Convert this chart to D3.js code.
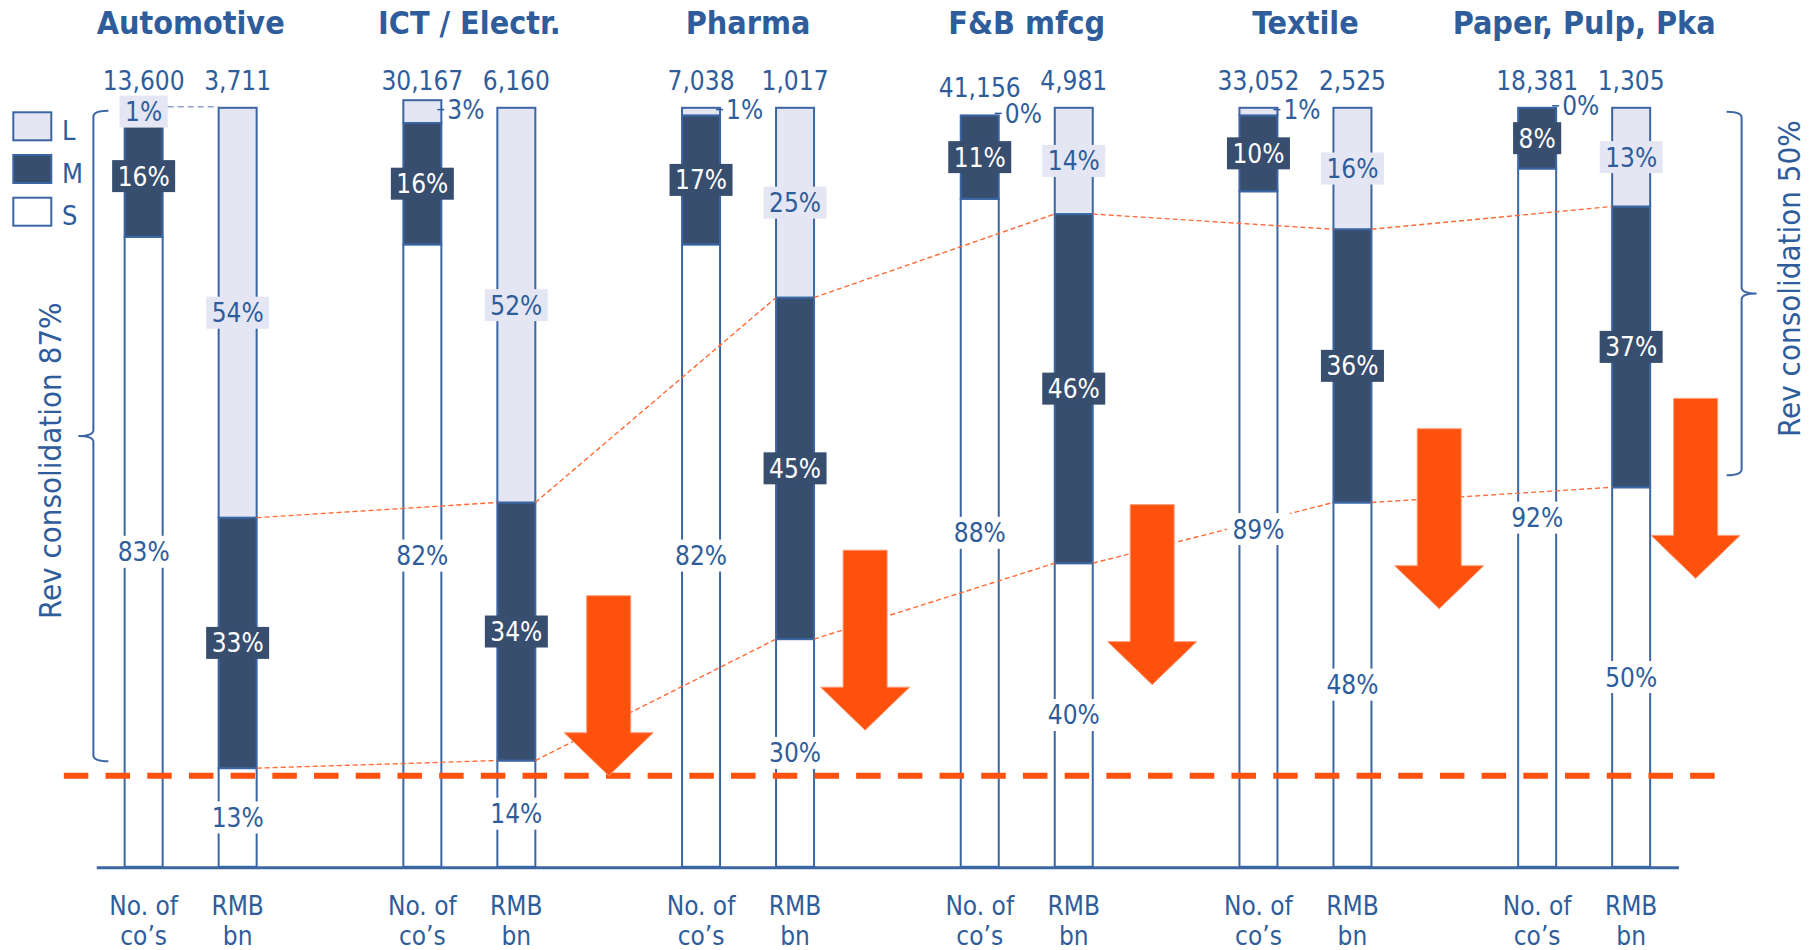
<!DOCTYPE html>
<html>
<head>
<meta charset="utf-8">
<script src="https://cdn.jsdelivr.net/npm/d3@7"></script>
<style>
  html, body { margin: 0; padding: 0; background: #ffffff; }
  svg { display: block; }
  text { font-family: "DejaVu Sans Condensed", "DejaVu Sans", sans-serif; font-stretch: condensed; }
</style>
</head>
<body>
<svg id="chart" width="1817" height="950"></svg>
<script>
// ---------------- data ----------------
const categories = ["Automotive", "ICT / Electr.", "Pharma", "F&B mfcg", "Textile", "Paper, Pulp, Pka"];
const companyTotals = [13600, 30167, 7038, 41156, 33052, 18381];
const revenueTotals = [3711, 6160, 1017, 4981, 2525, 1305];
// share of companies (%), by size class
const companyL = [1, 3, 1, 0, 1, 0];
const companyM = [16, 16, 17, 11, 10, 8];
const companyS = [83, 82, 82, 88, 89, 92];
// share of revenue (%), by size class
const revenueL = [54, 52, 25, 14, 16, 13];
const revenueM = [33, 34, 45, 46, 36, 37];
const revenueS = [13, 14, 30, 40, 48, 50];
const sizeClasses = ["L", "M", "S"];
const barLabels = [["No. of", "co\u2019s"], ["RMB", "bn"]];
const consolidationLabels = ["Rev consolidation 87%", "Rev consolidation 50%"];
const thresholdPct = 12;
// down arrows: position in category units, tip value in %
const arrowAt = [1.5, 2.42, 3.45, 4.48, 5.4];
const arrowTip = [12, 18, 24, 34, 38];

// ---------------- style ----------------
const BLUE = "#2f5d9b";
const OUTLINE = "#3b66a3";
const DARK = "#384e6f";
const LIGHT = "#e4e7f3";
const ORANGE = "#ff510e";
const fillOf = { L: LIGHT, M: DARK, S: "#ffffff" };
const textOf = { L: BLUE, M: "#ffffff", S: BLUE };

const svg = d3.select("#chart");

const x = d3.scaleBand().domain(categories).range([51.3, 51.3 + 6 * 278.7]).padding(0);
const gpos = d3.scaleLinear().domain([0, 1]).range([51.3 + x.step() / 2, 51.3 + x.step() * 1.5]);
const sub = d3.scalePoint().domain(["co", "rmb"]).range([-47, 47]);
const barW = 38;
const y = d3.scaleLinear().domain([0, 100]).range([866.8, 107.8]);

const groups = categories.map((c, i) => ({
  cat: c, i,
  bars: [
    { key: "co", total: companyTotals[i], seg: { L: companyL[i], M: companyM[i], S: companyS[i] } },
    { key: "rmb", total: revenueTotals[i], seg: { L: revenueL[i], M: revenueM[i], S: revenueS[i] } }
  ]
}));
groups.forEach(g => g.bars.forEach(b => {
  b.cx = x(g.cat) + x.bandwidth() / 2 + sub(b.key);
  let acc = 0;
  b.stack = ["S", "M", "L"].map(k => { const s = { k, v: b.seg[k], y0: acc, y1: acc + b.seg[k] }; acc += b.seg[k]; return s; });
  b.sum = acc;
}));

// ---------------- titles ----------------
svg.append("g").selectAll("text").data(categories).join("text")
  .attr("x", d => x(d) + x.bandwidth() / 2)
  .attr("y", 34)
  .attr("text-anchor", "middle")
  .attr("font-size", 32).attr("font-weight", "bold")
  .attr("fill", BLUE)
  .text(d => d);

// ---------------- legend ----------------
const leg = svg.append("g");
sizeClasses.forEach((k, j) => {
  const top = 112.3 + j * 42.7;
  leg.append("rect").attr("x", 13.3).attr("y", top).attr("width", 38).attr("height", 28)
    .attr("fill", fillOf[k]).attr("stroke", OUTLINE).attr("stroke-width", 2);
  leg.append("text").attr("x", 62).attr("y", top + 27.5).attr("font-size", 27).attr("fill", BLUE).text(k);
});

// ---------------- bars ----------------
const barG = svg.append("g");
groups.forEach(g => g.bars.forEach(b => {
  barG.selectAll(null).data(b.stack).join("rect")
    .attr("x", b.cx - barW / 2)
    .attr("width", barW)
    .attr("y", d => y(d.y1))
    .attr("height", d => y(d.y0) - y(d.y1))
    .attr("fill", d => fillOf[d.k])
    .attr("stroke", OUTLINE).attr("stroke-width", 2);
}));

// axis baseline
svg.append("line")
  .attr("x1", gpos(-0.337)).attr("x2", gpos(5.34))
  .attr("y1", y(0) + 1).attr("y2", y(0) + 1)
  .attr("stroke", OUTLINE).attr("stroke-width", 3);

// ---------------- connector lines between revenue bars ----------------
const conn = svg.append("g").attr("fill", "none").attr("stroke", "#ff6a33")
  .attr("stroke-width", 1.4).attr("stroke-dasharray", "5,3");
for (let i = 0; i < groups.length - 1; i++) {
  const a = groups[i].bars[1], b = groups[i + 1].bars[1];
  [revenueS[i] + revenueM[i], revenueS[i]].forEach((va, j) => {
    const vb = j === 0 ? revenueS[i + 1] + revenueM[i + 1] : revenueS[i + 1];
    conn.append("line")
      .attr("x1", a.cx + barW / 2).attr("y1", y(va))
      .attr("x2", b.cx - barW / 2).attr("y2", y(vb));
  });
}

// ---------------- totals ----------------
const fmt = d3.format(",");
groups.forEach(g => g.bars.forEach(b => {
  svg.append("text")
    .attr("x", b.cx).attr("y", y(Math.min(b.sum, 100)) - 18)
    .attr("text-anchor", "middle").attr("font-size", 26).attr("fill", BLUE)
    .text(fmt(b.total));
}));

// ---------------- segment labels ----------------
const FS = 26, PAD = 5.5, BOXH = 32;
function boxedLabel(cx, cy, txt, k) {
  const gg = svg.append("g");
  const r = gg.append("rect");
  const t = gg.append("text").attr("x", cx).attr("y", cy + FS * 0.365)
    .attr("text-anchor", "middle").attr("font-size", FS).attr("fill", textOf[k]).text(txt);
  const w = t.node().getComputedTextLength() + 2 * PAD;
  r.attr("x", cx - w / 2).attr("y", cy - BOXH / 2).attr("width", w).attr("height", BOXH).attr("fill", fillOf[k]);
  return w;
}
groups.forEach(g => g.bars.forEach((b, bi) => {
  b.stack.forEach(s => {
    const cy = y((s.y0 + s.y1) / 2);
    const txt = s.v + "%";
    if (s.k === "L" && s.v < 5) {
      if (g.i === 0) {
        const w = boxedLabel(b.cx, cy, txt, "L");
        const rb = g.bars[1];
        svg.append("line")
          .attr("x1", b.cx + w / 2).attr("y1", y(100) - 1)
          .attr("x2", rb.cx - barW / 2).attr("y2", y(100) - 1)
          .attr("stroke", "#8ea2c8").attr("stroke-width", 1.6).attr("stroke-dasharray", "6,4");
      } else {
        const lx = b.cx + barW / 2;
        const ly = cy - 2;
        svg.append("line").attr("x1", lx - 4).attr("x2", lx + 3).attr("y1", ly).attr("y2", ly)
          .attr("stroke", BLUE).attr("stroke-width", 1.5);
        svg.append("text").attr("x", lx + 6).attr("y", ly + FS * 0.365)
          .attr("font-size", FS).attr("fill", BLUE).text(txt);
      }
    } else {
      boxedLabel(b.cx, cy, txt, s.k);
    }
  });
}));

// ---------------- threshold dashed line ----------------
svg.append("line")
  .attr("x1", gpos(-0.455)).attr("x2", gpos(5.51))
  .attr("y1", y(thresholdPct)).attr("y2", y(thresholdPct))
  .attr("stroke", ORANGE).attr("stroke-width", 6).attr("stroke-dasharray", "24.5,17.2");

// ---------------- arrows ----------------
const arrowPath = (cx, ty) => {
  const L = 180, HH = 43, HW = 44.5, SW = 22;
  return `M${cx - SW},${ty - L}L${cx + SW},${ty - L}L${cx + SW},${ty - HH}L${cx + HW},${ty - HH}L${cx},${ty}L${cx - HW},${ty - HH}L${cx - SW},${ty - HH}Z`;
};
svg.append("g").selectAll("path").data(arrowAt).join("path")
  .attr("d", (d, i) => arrowPath(gpos(d), y(arrowTip[i])))
  .attr("fill", ORANGE).attr("stroke", "#ff9b73").attr("stroke-width", 1);

// ---------------- braces + consolidation text ----------------
function brace(xl, yTop, yBot, dir) {
  // dir = +1: opening "{" (hooks to the right, nub to the left); -1: "}"
  const h = 15 * dir, m = (yTop + yBot) / 2;
  const p = d3.path();
  p.moveTo(xl + h, yTop);
  p.quadraticCurveTo(xl, yTop, xl, yTop + 6);
  p.lineTo(xl, m - 6);
  p.quadraticCurveTo(xl, m, xl - h, m);
  p.quadraticCurveTo(xl, m, xl, m + 6);
  p.lineTo(xl, yBot - 6);
  p.quadraticCurveTo(xl, yBot, xl + h, yBot);
  svg.append("path").attr("d", p.toString()).attr("fill", "none")
    .attr("stroke", OUTLINE).attr("stroke-width", 2);
}
brace(gpos(-0.349), y(100) + 3, y(revenueS[0]) - 7, 1);
brace(gpos(5.565), y(100) + 4, y(revenueS[5]) - 12, -1);

svg.append("text")
  .attr("transform", `translate(${gpos(-0.4635)},${y(53.5)}) rotate(-90)`)
  .attr("text-anchor", "middle").attr("font-size", 31).attr("fill", BLUE)
  .text(consolidationLabels[0]);
svg.append("text")
  .attr("transform", `translate(${gpos(5.776)},${y(77.5)}) rotate(-90)`)
  .attr("text-anchor", "middle").attr("font-size", 31).attr("fill", BLUE)
  .text(consolidationLabels[1]);

// ---------------- bottom labels ----------------
groups.forEach(g => g.bars.forEach((b, bi) => {
  barLabels[bi].forEach((line, li) => {
    svg.append("text").attr("x", b.cx).attr("y", 915 + li * 30)
      .attr("text-anchor", "middle").attr("font-size", 26).attr("fill", BLUE).text(line);
  });
}));
</script>
</body>
</html>
